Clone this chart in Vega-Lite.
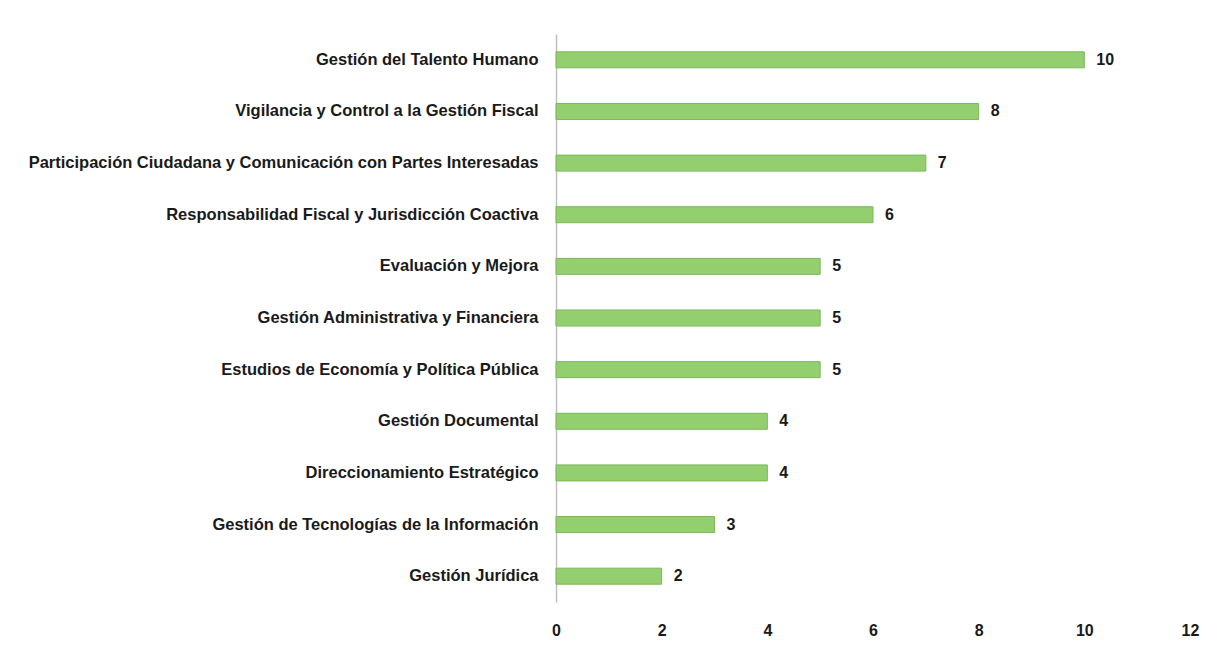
{
  "$schema": "https://vega.github.io/schema/vega-lite/v6.json",
  "width": 634,
  "height": 568,
  "autosize": {"type": "none"},
  "padding": {"left": 556, "top": 34, "right": 30, "bottom": 45},
  "background": "white",
  "config": {"view": {"stroke": null}, "font": "Liberation Sans"},
  "data": {"values": [
    {"proceso": "Gestión del Talento Humano", "valor": 10},
    {"proceso": "Vigilancia y Control a la Gestión Fiscal", "valor": 8},
    {"proceso": "Participación Ciudadana y Comunicación con Partes Interesadas", "valor": 7},
    {"proceso": "Responsabilidad Fiscal y Jurisdicción Coactiva", "valor": 6},
    {"proceso": "Evaluación y Mejora", "valor": 5},
    {"proceso": "Gestión Administrativa y Financiera", "valor": 5},
    {"proceso": "Estudios de Economía y Política Pública", "valor": 5},
    {"proceso": "Gestión Documental\u2003", "valor": 4},
    {"proceso": "Direccionamiento Estratégico", "valor": 4},
    {"proceso": "Gestión de Tecnologías de la Información", "valor": 3},
    {"proceso": "Gestión Jurídica", "valor": 2}
  ]},
  "encoding": {
    "y": {
      "field": "proceso", "type": "nominal", "sort": null,
      "scale": {"paddingInner": 0.69, "paddingOuter": 0.345},
      "axis": {
        "title": null, "ticks": false, "labelPadding": 18,
        "labelFont": "Liberation Sans", "labelFontWeight": "bold",
        "labelFontSize": 16.5, "labelColor": "#1a1a1a", "labelLimit": 0,
        "domainColor": "#bfbfbf", "domainWidth": 1.5
      }
    },
    "x": {
      "field": "valor", "type": "quantitative",
      "scale": {"domain": [0, 12], "nice": false},
      "axis": {
        "title": null, "values": [0, 2, 4, 6, 8, 10, 12], "grid": false,
        "ticks": false, "domain": false, "labelPadding": 20,
        "labelFont": "Liberation Sans", "labelFontWeight": "bold",
        "labelFontSize": 16, "labelColor": "#1a1a1a", "labelFlush": false
      }
    }
  },
  "layer": [
    {"mark": {"type": "bar", "fill": "#93cf6e", "stroke": "#7ab85a", "strokeWidth": 1}},
    {"mark": {"type": "text", "align": "left", "dx": 12, "font": "Liberation Sans", "fontWeight": "bold", "fontSize": 16, "color": "#1a1a1a"},
     "encoding": {"text": {"field": "valor", "type": "quantitative"}}}
  ]
}
